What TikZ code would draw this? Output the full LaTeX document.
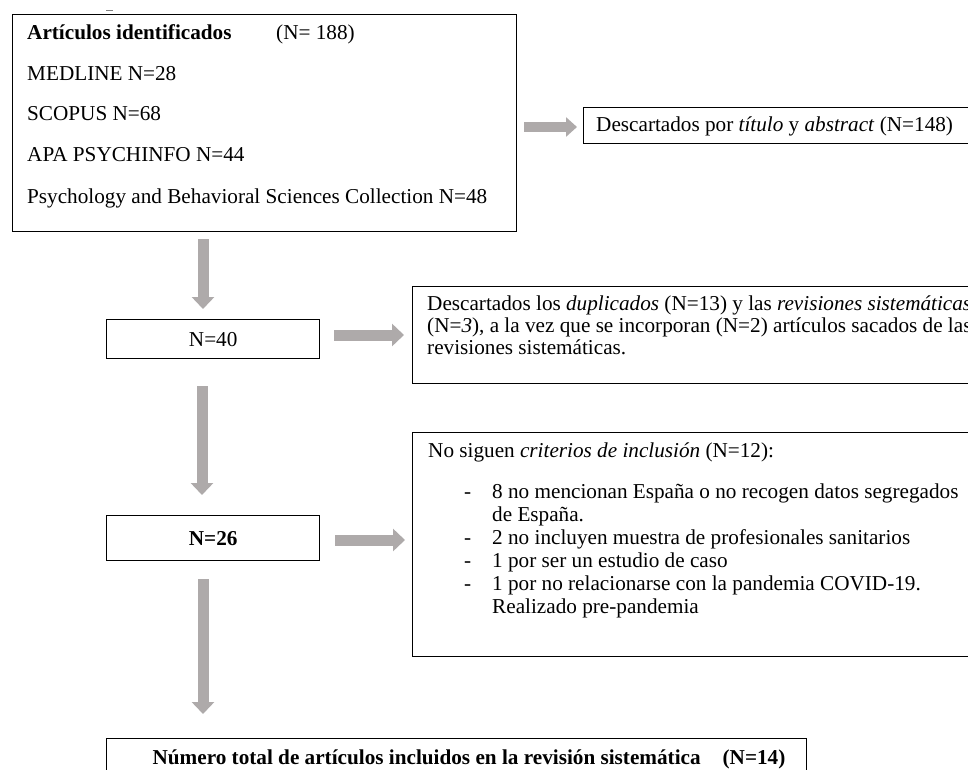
\documentclass[tikz,border=0pt]{standalone}
\usepackage{fontspec}
\setmainfont{Liberation Serif}
\usetikzlibrary{arrows.meta}
\definecolor{arrowgray}{RGB}{174,170,170}
\begin{document}
\begin{tikzpicture}[x=1pt,y=-1pt,
  box/.style={draw, line width=1.4pt, inner sep=0pt, anchor=north west},
  txt/.style={anchor=base west, inner sep=0pt, font=\fontsize{21.2}{25}\selectfont},
  ctxt/.style={anchor=base, inner sep=0pt, font=\fontsize{21.2}{25}\selectfont},
  blockarrow/.style={draw=arrowgray, line width=11pt, -{Triangle[width=22pt,length=12pt]}},
  smallarrow/.style={draw=arrowgray, line width=10pt, -{Triangle[width=19pt,length=11pt]}}]
\useasboundingbox (0,0) rectangle (968,770);
\clip (0,0) rectangle (968,770);
\fill[white] (0,0) rectangle (968,770);

% small mark at top
\draw[gray, line width=0.8pt] (106,10) -- (113,10);

% box 1
\node[box, minimum width=504pt, minimum height=217pt] (b1) at (12,14) {};
\node[txt] (t1a) at (27,40) {\textbf{Artículos identificados}};
\node[txt] (t1b) at (276,40) {(N= 188)};
\node[txt] (t1c) at (27,81) {MEDLINE N=28};
\node[txt] (t1d) at (27,121) {SCOPUS N=68};
\node[txt] (t1e) at (27,161) {APA PSYCHINFO N=44};
\node[txt] (t1f) at (27,203) {Psychology and Behavioral Sciences Collection N=48};

% box 2
\node[box, minimum width=420pt, minimum height=36pt] (b2) at (583,107) {};
\node[txt] (t2) at (596,132) {Descartados por \textit{título} y \textit{abstract} (N=148)};

% box N=40
\node[box, minimum width=213pt, minimum height=39pt, font=\fontsize{21.2}{25}\selectfont] (b3) at (106,319) {N=40};

% box 4 (duplicados)
\node[box, minimum width=600pt, minimum height=97pt] (b4) at (412,286) {};
\node[txt] (t4a) at (427,310) {Descartados los \textit{duplicados} (N=13) y las \textit{revisiones sistemáticas}};
\node[txt] (t4b) at (427,332) {(N=\textit{3}), a la vez que se incorporan (N=2) artículos sacados de las};
\node[txt] (t4c) at (427,354) {revisiones sistemáticas.};

% box N=26
\node[box, minimum width=213pt, minimum height=45pt, font=\fontsize{21.2}{25}\selectfont\bfseries] (b5) at (106,515) {N=26};

% box 6 (criterios)
\node[box, minimum width=600pt, minimum height=224pt] (b6) at (412,432) {};
\node[txt] (t6a) at (428,457) {No siguen \textit{criterios de inclusión} (N=12):};
\node[txt] (d6a) at (464,498) {-};
\node[txt] (t6b) at (492,498) {8 no mencionan España o no recogen datos segregados};
\node[txt] (t6c) at (492,521) {de España.};
\node[txt] (d6b) at (464,544) {-};
\node[txt] (t6d) at (492,544) {2 no incluyen muestra de profesionales sanitarios};
\node[txt] (d6c) at (464,567) {-};
\node[txt] (t6e) at (492,567) {1 por ser un estudio de caso};
\node[txt] (d6d) at (464,590) {-};
\node[txt] (t6f) at (492,590) {1 por no relacionarse con la pandemia COVID-19.};
\node[txt] (t6g) at (492,613) {Realizado pre-pandemia};

% final box
\node[box, minimum width=700pt, minimum height=60pt] (b7) at (106,738) {};
\node[ctxt] (t7) at (469,764) {\textbf{Número total de artículos incluidos en la revisión sistemática\hspace{22pt}(N=14)}};

% arrows
\coordinate (a1s) at (524,127); \coordinate (a1e) at (577,127);
\coordinate (a2s) at (203,239); \coordinate (a2e) at (203,309);
\coordinate (a3s) at (334,335); \coordinate (a3e) at (404,335);
\coordinate (a4s) at (202,386); \coordinate (a4e) at (202,495);
\coordinate (a5s) at (335,540); \coordinate (a5e) at (405,540);
\coordinate (a6s) at (203,579); \coordinate (a6e) at (203,714);
\draw[smallarrow] (a1s) -- (a1e);
\draw[blockarrow] (a2s) -- (a2e);
\draw[blockarrow] (a3s) -- (a3e);
\draw[blockarrow] (a4s) -- (a4e);
\draw[blockarrow] (a5s) -- (a5e);
\draw[blockarrow] (a6s) -- (a6e);
\end{tikzpicture}
\end{document}
